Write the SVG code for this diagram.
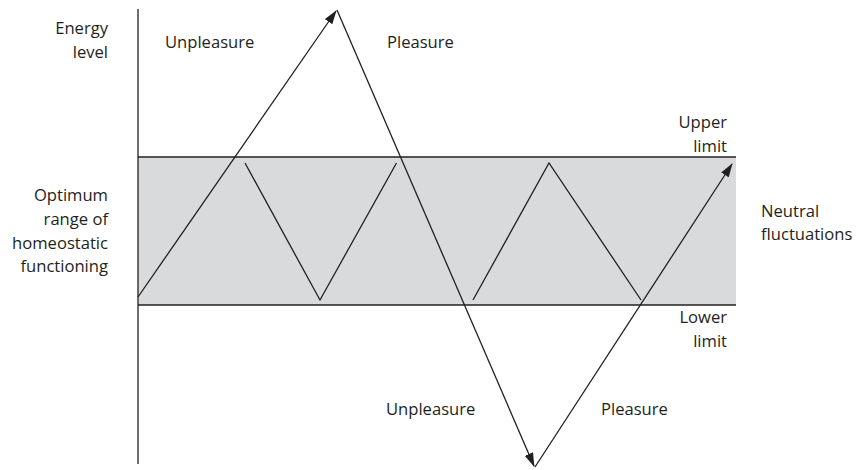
<svg xmlns="http://www.w3.org/2000/svg" width="856" height="470" viewBox="0 0 856 470">
<style>
text{font-family:"Open Sans",Lato,"Liberation Sans",sans-serif;font-size:16.6px;fill:#231f20}
.r{text-anchor:end}
.ln{stroke:#231f20;stroke-width:1.3;fill:none}
</style>
<defs>
<marker id="ah" markerUnits="userSpaceOnUse" markerWidth="14" markerHeight="10" refX="13" refY="5" orient="auto" viewBox="0 0 14 10">
<path d="M0,0.5 L14,5 L0,9.5 z" fill="#231f20"/>
</marker>
</defs>
<g id="band">
<rect x="138" y="157" width="598" height="148" fill="#d9dadc"/>
<line class="ln" x1="138" y1="157" x2="736" y2="157"/>
<line class="ln" x1="138" y1="305" x2="736" y2="305"/>
</g>
<g id="axis">
<line class="ln" x1="138" y1="9" x2="138" y2="464"/>
</g>
<g id="connectors">
<line class="ln" x1="138" y1="297" x2="336" y2="11" marker-end="url(#ah)"/>
<line class="ln" x1="337" y1="10" x2="534" y2="466" marker-end="url(#ah)"/>
<line class="ln" x1="535" y1="467" x2="732" y2="164" marker-end="url(#ah)"/>
<polyline class="ln" points="245,163 320,300 396.5,163"/>
<polyline class="ln" points="473,300 549,163 641,300"/>
</g>
<g id="labels">
<text class="r" x="108" y="34">Energy</text>
<text class="r" x="108" y="58">level</text>
<text x="165" y="48">Unpleasure</text>
<text x="387" y="48">Pleasure</text>
<text class="r" x="727" y="128">Upper</text>
<text class="r" x="727" y="152">limit</text>
<text class="r" x="108" y="201">Optimum</text>
<text class="r" x="108" y="225">range of</text>
<text class="r" x="108" y="249">homeostatic</text>
<text class="r" x="108" y="272">functioning</text>
<text x="761" y="217">Neutral</text>
<text x="761" y="240">fluctuations</text>
<text class="r" x="727" y="323">Lower</text>
<text class="r" x="727" y="347">limit</text>
<text x="386" y="415">Unpleasure</text>
<text x="601" y="415">Pleasure</text>
</g>
</svg>
